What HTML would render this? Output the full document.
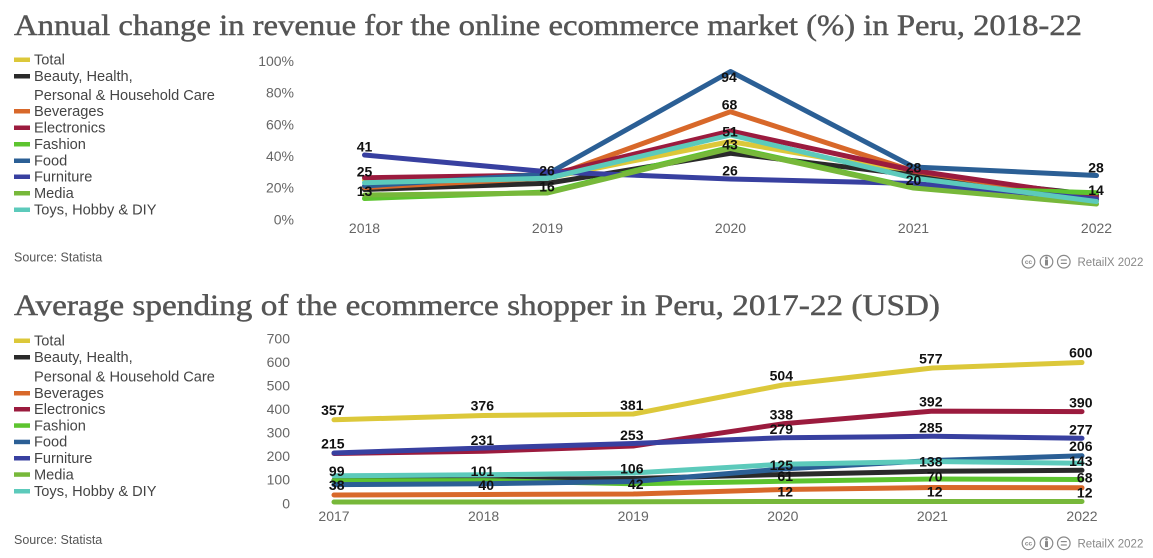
<!DOCTYPE html>
<html><head><meta charset="utf-8"><style>
html,body{margin:0;padding:0;background:#fff;}
svg{display:block;}
.t{font-family:"Liberation Serif",serif;font-size:30px;fill:#555;stroke:#555;stroke-width:0.45;}
.lg{font-family:"Liberation Sans",sans-serif;font-size:14.6px;fill:#444;}
.ax{font-family:"Liberation Sans",sans-serif;font-size:14px;fill:#666;}
.src{font-family:"Liberation Sans",sans-serif;font-size:12.5px;fill:#555;}
.lb{font-family:"Liberation Sans",sans-serif;font-size:14px;font-weight:bold;fill:#111;}
.cc{font-family:"Liberation Sans",sans-serif;font-size:11.5px;fill:#888;}
polyline{fill:none;stroke-width:5;stroke-linejoin:round;stroke-linecap:round;}
</style></head><body>
<svg width="1153" height="558" viewBox="0 0 1153 558" xmlns="http://www.w3.org/2000/svg">
<!-- ============ TOP CHART ============ -->
<text class="t" x="14" y="35" textLength="1068" lengthAdjust="spacingAndGlyphs">Annual change in revenue for the online ecommerce market (%) in Peru, 2018-22</text>

<g>
<rect x="14" y="57.5" width="16" height="4.5" fill="#dcc83a"/><text class="lg" x="34" y="64.5">Total</text>
<rect x="14" y="74" width="16" height="4.5" fill="#2a2a2a"/><text class="lg" x="34" y="81">Beauty, Health,</text>
<text class="lg" x="34" y="100">Personal &amp; Household Care</text>
<rect x="14" y="109" width="16" height="4.5" fill="#d8682a"/><text class="lg" x="34" y="116">Beverages</text>
<rect x="14" y="125.5" width="16" height="4.5" fill="#9b1b3e"/><text class="lg" x="34" y="132.5">Electronics</text>
<rect x="14" y="142" width="16" height="4.5" fill="#5dc42f"/><text class="lg" x="34" y="149">Fashion</text>
<rect x="14" y="158.5" width="16" height="4.5" fill="#2b5f95"/><text class="lg" x="34" y="165.5">Food</text>
<rect x="14" y="174.5" width="16" height="4.5" fill="#3840a0"/><text class="lg" x="34" y="181.5">Furniture</text>
<rect x="14" y="191" width="16" height="4.5" fill="#77b83a"/><text class="lg" x="34" y="198">Media</text>
<rect x="14" y="207.5" width="16" height="4.5" fill="#5ccabb"/><text class="lg" x="34" y="214.5">Toys, Hobby &amp; DIY</text>
</g>

<g text-anchor="end">
<text class="ax" x="294" y="66">100%</text>
<text class="ax" x="294" y="97.7">80%</text>
<text class="ax" x="294" y="129.3">60%</text>
<text class="ax" x="294" y="161">40%</text>
<text class="ax" x="294" y="192.7">20%</text>
<text class="ax" x="294" y="224.3">0%</text>
</g>
<g text-anchor="middle">
<text class="ax" x="364.5" y="233">2018</text>
<text class="ax" x="547.5" y="233">2019</text>
<text class="ax" x="730.5" y="233">2020</text>
<text class="ax" x="913.5" y="233">2021</text>
<text class="ax" x="1096.5" y="233">2022</text>
</g>

<polyline stroke="#dcc83a" points="364.5,180 547.5,178 730.5,141.5 913.5,173 1096.5,201"/>
<polyline stroke="#2a2a2a" points="364.5,189.5 547.5,183.3 730.5,153.3 913.5,175 1096.5,195"/>
<polyline stroke="#d8682a" points="364.5,187.5 547.5,178 730.5,111.7 913.5,171 1096.5,200"/>
<polyline stroke="#9b1b3e" points="364.5,177.7 547.5,175 730.5,131 913.5,170.5 1096.5,197"/>
<polyline stroke="#5dc42f" points="364.5,198.5 547.5,192 730.5,147.3 913.5,187.5 1096.5,192.7"/>
<polyline stroke="#2b5f95" points="364.5,186 547.5,174 730.5,71.5 913.5,167 1096.5,175.5"/>
<polyline stroke="#3840a0" points="364.5,155 547.5,171.7 730.5,179 913.5,183.5 1096.5,199"/>
<polyline stroke="#77b83a" points="364.5,195 547.5,193 730.5,148.5 913.5,188 1096.5,204"/>
<polyline stroke="#5ccabb" points="364.5,182.7 547.5,178.3 730.5,135 913.5,178 1096.5,201.5"/>

<g text-anchor="middle">
<text class="lb" x="364.5" y="151.7">41</text>
<text class="lb" x="364.5" y="176.7">25</text>
<text class="lb" x="364.5" y="196">13</text>
<text class="lb" x="547" y="175.7">26</text>
<text class="lb" x="547" y="191.7">16</text>
<text class="lb" x="729" y="82">94</text>
<text class="lb" x="729.5" y="109.3">68</text>
<text class="lb" x="730" y="136.7">51</text>
<text class="lb" x="730" y="149.5">43</text>
<text class="lb" x="730" y="175.5">26</text>
<text class="lb" x="913.5" y="172.3">28</text>
<text class="lb" x="913.5" y="185">20</text>
<text class="lb" x="1096" y="172.3">28</text>
<text class="lb" x="1096" y="195">14</text>
</g>

<text class="src" x="14" y="261.5">Source: Statista</text>

<g stroke="#888" stroke-width="1.2" fill="none">
<circle cx="1028.5" cy="261.7" r="6.3"/>
<circle cx="1046.5" cy="261.7" r="6.3"/>
<circle cx="1063.8" cy="261.7" r="6.3"/>
<line x1="1060.8" y1="260" x2="1066.8" y2="260"/>
<line x1="1060.8" y1="263.4" x2="1066.8" y2="263.4"/>
</g>
<text x="1028.5" y="264" text-anchor="middle" font-family="Liberation Sans,sans-serif" font-size="6.5" font-weight="bold" fill="#888">cc</text>
<circle cx="1046.5" cy="257.7" r="1.3" fill="#888"/>
<rect x="1045" y="259.5" width="3" height="6" fill="#888"/>
<text class="cc" x="1077.5" y="265.8">RetailX 2022</text>

<!-- ============ BOTTOM CHART ============ -->
<text class="t" x="14" y="315" textLength="926" lengthAdjust="spacingAndGlyphs">Average spending of the ecommerce shopper in Peru, 2017-22 (USD)</text>

<g>
<rect x="14" y="338.5" width="16" height="4.5" fill="#dcc83a"/><text class="lg" x="34" y="345.7">Total</text>
<rect x="14" y="355" width="16" height="4.5" fill="#2a2a2a"/><text class="lg" x="34" y="362">Beauty, Health,</text>
<text class="lg" x="34" y="381.7">Personal &amp; Household Care</text>
<rect x="14" y="391" width="16" height="4.5" fill="#d8682a"/><text class="lg" x="34" y="398">Beverages</text>
<rect x="14" y="407" width="16" height="4.5" fill="#9b1b3e"/><text class="lg" x="34" y="414">Electronics</text>
<rect x="14" y="423.3" width="16" height="4.5" fill="#5dc42f"/><text class="lg" x="34" y="430.3">Fashion</text>
<rect x="14" y="439.7" width="16" height="4.5" fill="#2b5f95"/><text class="lg" x="34" y="446.7">Food</text>
<rect x="14" y="456" width="16" height="4.5" fill="#3840a0"/><text class="lg" x="34" y="463">Furniture</text>
<rect x="14" y="472.3" width="16" height="4.5" fill="#77b83a"/><text class="lg" x="34" y="479.3">Media</text>
<rect x="14" y="489" width="16" height="4.5" fill="#5ccabb"/><text class="lg" x="34" y="496">Toys, Hobby &amp; DIY</text>
</g>

<g text-anchor="end">
<text class="ax" x="290" y="343.3">700</text>
<text class="ax" x="290" y="366.9">600</text>
<text class="ax" x="290" y="390.4">500</text>
<text class="ax" x="290" y="414">400</text>
<text class="ax" x="290" y="437.6">300</text>
<text class="ax" x="290" y="461.2">200</text>
<text class="ax" x="290" y="484.7">100</text>
<text class="ax" x="290" y="508.3">0</text>
</g>
<g text-anchor="middle">
<text class="ax" x="334" y="521">2017</text>
<text class="ax" x="483.6" y="521">2018</text>
<text class="ax" x="633.2" y="521">2019</text>
<text class="ax" x="782.8" y="521">2020</text>
<text class="ax" x="932.4" y="521">2021</text>
<text class="ax" x="1082" y="521">2022</text>
</g>

<polyline stroke="#dcc83a" points="334,419.8 483.6,415.5 633.2,414 782.8,385 932.4,368 1082,362.5"/>
<polyline stroke="#2a2a2a" points="334,480.2 483.6,479.7 633.2,478.5 782.8,474.5 932.4,471.3 1082,470.3"/>
<polyline stroke="#d8682a" points="334,495 483.6,494.5 633.2,494 782.8,489.5 932.4,487.5 1082,487.8"/>
<polyline stroke="#9b1b3e" points="334,453.5 483.6,451.2 633.2,446 782.8,423.8 932.4,411.1 1082,411.6"/>
<polyline stroke="#5dc42f" points="334,480.8 483.6,480.6 633.2,483.8 782.8,481.3 932.4,479 1082,479.5"/>
<polyline stroke="#2b5f95" points="334,484.6 483.6,483.8 633.2,481.5 782.8,469 932.4,460.5 1082,455.8"/>
<polyline stroke="#3840a0" points="334,453 483.6,448 633.2,443.5 782.8,437.7 932.4,436.3 1082,438.2"/>
<polyline stroke="#77b83a" points="334,502 483.6,502 633.2,501.8 782.8,501.5 932.4,501.5 1082,501.5"/>
<polyline stroke="#5ccabb" points="334,475.8 483.6,474.8 633.2,473 782.8,464.2 932.4,461.5 1082,463.3"/>

<g text-anchor="end">
<text class="lb" x="344.5" y="415">357</text>
<text class="lb" x="344.5" y="448.3">215</text>
<text class="lb" x="344.5" y="476">99</text>
<text class="lb" x="344.5" y="490">38</text>
<text class="lb" x="494" y="410.7">376</text>
<text class="lb" x="494" y="445">231</text>
<text class="lb" x="494" y="476">101</text>
<text class="lb" x="494" y="490">40</text>
<text class="lb" x="643.5" y="410">381</text>
<text class="lb" x="643.5" y="440">253</text>
<text class="lb" x="643.5" y="473.5">106</text>
<text class="lb" x="643.5" y="489">42</text>
<text class="lb" x="793" y="380.7">504</text>
<text class="lb" x="793" y="419.3">338</text>
<text class="lb" x="793" y="434">279</text>
<text class="lb" x="793" y="470">125</text>
<text class="lb" x="793" y="481">61</text>
<text class="lb" x="793" y="496.7">12</text>
<text class="lb" x="942.5" y="363.3">577</text>
<text class="lb" x="942.5" y="406.7">392</text>
<text class="lb" x="942.5" y="432.7">285</text>
<text class="lb" x="942.5" y="466.7">138</text>
<text class="lb" x="942.5" y="481.7">70</text>
<text class="lb" x="942.5" y="496.7">12</text>
<text class="lb" x="1092.5" y="357.7">600</text>
<text class="lb" x="1092.5" y="407.7">390</text>
<text class="lb" x="1092.5" y="434.3">277</text>
<text class="lb" x="1092.5" y="451">206</text>
<text class="lb" x="1092.5" y="466">143</text>
<text class="lb" x="1092.5" y="482.7">68</text>
<text class="lb" x="1092.5" y="497.3">12</text>
</g>

<text class="src" x="14" y="543.8">Source: Statista</text>

<g stroke="#888" stroke-width="1.2" fill="none">
<circle cx="1028.5" cy="543.3" r="6.3"/>
<circle cx="1046.5" cy="543.3" r="6.3"/>
<circle cx="1063.8" cy="543.3" r="6.3"/>
<line x1="1060.8" y1="541.6" x2="1066.8" y2="541.6"/>
<line x1="1060.8" y1="545" x2="1066.8" y2="545"/>
</g>
<text x="1028.5" y="545.6" text-anchor="middle" font-family="Liberation Sans,sans-serif" font-size="6.5" font-weight="bold" fill="#888">cc</text>
<circle cx="1046.5" cy="539.3" r="1.3" fill="#888"/>
<rect x="1045" y="541.1" width="3" height="6" fill="#888"/>
<text class="cc" x="1077.5" y="547.4">RetailX 2022</text>
</svg>
</body></html>
